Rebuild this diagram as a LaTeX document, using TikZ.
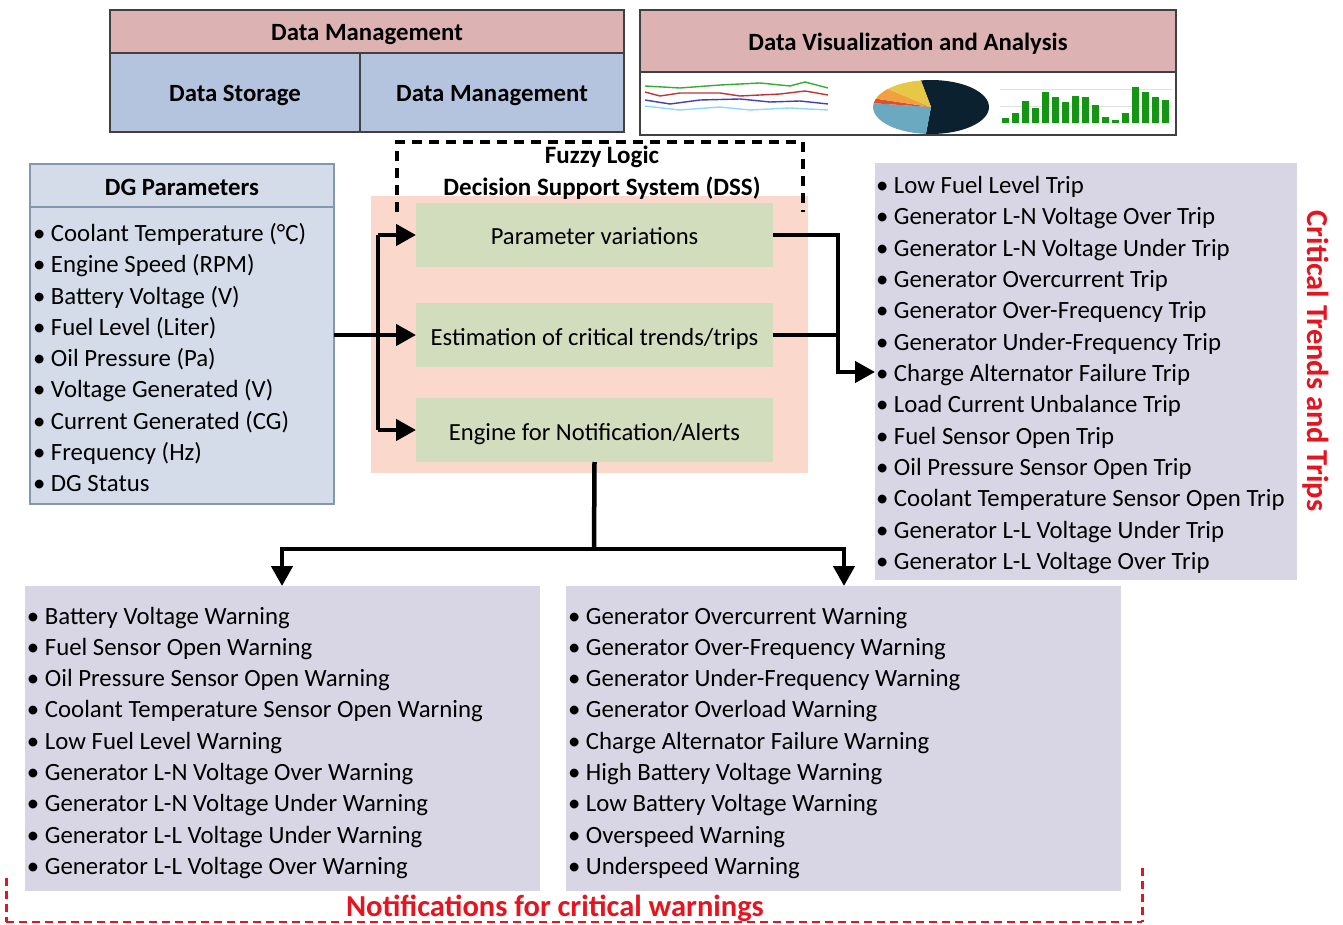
\documentclass[tikz,border=0pt]{standalone}
\usepackage{fontspec}
\setmainfont{Carlito}
\usetikzlibrary{arrows.meta}
\definecolor{hdrpink}{RGB}{220,178,179}
\definecolor{cellblue}{RGB}{180,196,222}
\definecolor{dgfill}{RGB}{212,220,234}
\definecolor{dgline}{RGB}{132,151,176}
\definecolor{listgrey}{RGB}{216,214,228}
\definecolor{dsspink}{RGB}{251,216,204}
\definecolor{dssgreen}{RGB}{210,221,190}
\definecolor{alertred}{RGB}{230,20,30}
\definecolor{boxline}{RGB}{64,64,64}
\definecolor{piedark}{RGB}{11,33,48}
\definecolor{pieblue}{RGB}{107,169,192}
\definecolor{piered}{RGB}{222,80,50}
\definecolor{pieorange}{RGB}{240,160,60}
\definecolor{pieyellow}{RGB}{230,200,70}
\definecolor{bargreen}{RGB}{20,150,20}
\begin{document}
\begin{tikzpicture}[x=1pt,y=-1pt,
  every node/.style={inner sep=0pt, outer sep=0pt},
  txt/.style={font=\fontsize{24.6}{28}\selectfont, text=black, text height=25pt, text depth=5pt},
  btxt/.style={font=\bfseries\fontsize{24.8}{28}\selectfont, text=black, text height=24pt, text depth=5pt},
  item/.style={anchor=base west, font=\fontsize{24.8}{28}\selectfont, text=black},
  topbox/.style={draw=boxline, line width=1.3pt, rectangle},
  listbox/.style={fill=listgrey, rectangle},
  greenbox/.style={fill=dssgreen, rectangle, minimum width=357pt},
  flow/.style={line width=4.5pt, -{Triangle[length=20pt,width=21pt]}},
  flowline/.style={line width=4.5pt},
  redtxt/.style={font=\bfseries\fontsize{30.5}{32}\selectfont, text=alertred}
]
\useasboundingbox (0,0) rectangle (1343,925);

% ---------- Data Management (top left) ----------
\node[topbox, fill=hdrpink, minimum width=514pt, minimum height=43pt, btxt] (dmh) at (367,31.5) {Data Management};
\node[topbox, fill=cellblue, minimum width=250pt, minimum height=79pt, btxt] (ds) at (235,92.5) {Data Storage};
\node[topbox, fill=cellblue, minimum width=264pt, minimum height=79pt, btxt] (dm) at (492,92.5) {Data Management};

% ---------- Data Visualization (top right) ----------
\node[topbox, fill=hdrpink, minimum width=536pt, minimum height=62pt, btxt] (dvh) at (908,41) {Data Visualization and Analysis};
\node[topbox, fill=white, minimum width=536pt, minimum height=63pt] (dvc) at (908,103.5) {};
% line chart
\draw[line width=1.4pt, green!60!black!80] (645,86) -- (680,88) -- (720,85) -- (760,83) -- (790,86) -- (805,82) -- (828,88);
\draw[line width=1.4pt, red!70!black!80] (645,92) -- (660,96) -- (680,93) -- (720,93) -- (740,96) -- (780,94) -- (805,91) -- (828,95);
\draw[line width=1.4pt, blue!50!gray] (645,100) -- (670,104) -- (700,100) -- (740,99) -- (770,102) -- (800,101) -- (828,104);
\draw[line width=1.4pt, cyan!45!white] (645,106) -- (680,110) -- (720,107) -- (750,110) -- (790,108) -- (828,110);
% pie chart
\coordinate (pc) at (931,107);
\fill[piedark] (pc) -- ++(95:58 and 27) arc[start angle=95, end angle=-100, x radius=58, y radius=27] -- cycle;
\fill[pieblue] (pc) -- ++(95:58 and 27) arc[start angle=95, end angle=188, x radius=58, y radius=27] -- cycle;
\fill[piered] (pc) -- ++(188:58 and 27) arc[start angle=188, end angle=198, x radius=58, y radius=27] -- cycle;
\fill[pieorange] (pc) -- ++(198:58 and 27) arc[start angle=198, end angle=222, x radius=58, y radius=27] -- cycle;
\fill[pieyellow] (pc) -- ++(222:58 and 27) arc[start angle=222, end angle=260, x radius=58, y radius=27] -- cycle;
% bar chart
\draw[gray!25, line width=0.6pt] (1000,89) -- (1172,89) (1000,106) -- (1172,106);
\foreach \h [count=\i] in {5,10,22,15,31,26,21,27,26,18,6,3,10,36,31,26,23}
  \fill[bargreen] ({1001.5+10*(\i-1)},123) rectangle ++(7,-\h);

% ---------- DG Parameters ----------
\node[draw=dgline, fill=dgfill, line width=1.2pt, minimum width=304pt, minimum height=340pt] (dg) at (182,334) {};
\draw[dgline, line width=1.2pt] (dg.west |- 0,207) -- (dg.east |- 0,207);
\node[btxt] (dgh) at (182,186) {DG Parameters};
\foreach \t [count=\i] in {{Coolant Temperature (°C)},{Engine Speed (RPM)},{Battery Voltage (V)},{Fuel Level (Liter)},{Oil Pressure (Pa)},{Voltage Generated (V)},{Current Generated (CG)},{Frequency (Hz)},{DG Status}}
  \node[item] (dg\i) at (33,{241.5+31.25*(\i-1)}) {• \t};

% ---------- DSS ----------
\fill[dsspink] (371,196) rectangle (808,473);
\node[draw=none] (dss) at (589.5,334.5) {};
\draw[line width=3.5pt, dash pattern=on 10pt off 7pt] (397,212) -- (397,142) -- (803,142) -- (803,212);
\node[align=center, font=\bfseries\fontsize{25}{32}\selectfont] (fl) at (602,173) {Fuzzy Logic\\Decision Support System (DSS)};
\node[greenbox, minimum height=64pt, txt] (pv) at (594.5,235) {Parameter variations};
\node[greenbox, minimum height=64pt, txt] (ec) at (594.5,335) {Estimation of critical trends/trips};
\node[greenbox, minimum height=64pt, txt] (en) at (594.5,430) {Engine for Notification/Alerts};

% ---------- Trips ----------
\node[listbox, minimum width=422pt, minimum height=417pt] (trips) at (1086,371.5) {};
\foreach \t [count=\i] in {{Low Fuel Level Trip},{Generator L-N Voltage Over Trip},{Generator L-N Voltage Under Trip},{Generator Overcurrent Trip},{Generator Over-Frequency Trip},{Generator Under-Frequency Trip},{Charge Alternator Failure Trip},{Load Current Unbalance Trip},{Fuel Sensor Open Trip},{Oil Pressure Sensor Open Trip},{Coolant Temperature Sensor Open Trip},{Generator L-L Voltage Under Trip},{Generator L-L Voltage Over Trip}}
  \node[item] (tr\i) at (876,{193.5+31.33*(\i-1)}) {• \t};
\node[redtxt, font=\bfseries\fontsize{30.5}{32}\selectfont, rotate=-90] (ctt) at (1316,361) {Critical Trends and Trips};

% ---------- Warnings ----------
\node[listbox, minimum width=515pt, minimum height=305pt] (wl) at (282,738.5) {};
\foreach \t [count=\i] in {{Battery Voltage Warning},{Fuel Sensor Open Warning},{Oil Pressure Sensor Open Warning},{Coolant Temperature Sensor Open Warning},{Low Fuel Level Warning},{Generator L-N Voltage Over Warning},{Generator L-N Voltage Under Warning},{Generator L-L Voltage Under Warning},{Generator L-L Voltage Over Warning}}
  \node[item] (wl\i) at (27,{624+31.3*(\i-1)}) {• \t};
\node[listbox, minimum width=555pt, minimum height=305pt] (wr) at (843.5,738.5) {};
\foreach \t [count=\i] in {{Generator Overcurrent Warning},{Generator Over-Frequency Warning},{Generator Under-Frequency Warning},{Generator Overload Warning},{Charge Alternator Failure Warning},{High Battery Voltage Warning},{Low Battery Voltage Warning},{Overspeed Warning},{Underspeed Warning}}
  \node[item] (wr\i) at (568,{624+31.3*(\i-1)}) {• \t};

% red dashed frame
\draw[alertred, line width=3pt, dash pattern=on 8pt off 5pt] (6,878) -- (6,922);
\draw[alertred, line width=3pt, dash pattern=on 8pt off 5pt] (1142,868) -- (1142,922);
\draw[alertred, line width=2pt, dash pattern=on 8pt off 5pt] (6,922) -- (1142,922);
\node[redtxt] (ncw) at (555,908) {Notifications for critical warnings};

% ---------- Connectors ----------
\coordinate (busL) at (378,335);
\draw[flowline] (dg.east |- 0,335) -- (busL);
\draw[flowline] (378,235) -- (378,430);
\draw[flow] (378,235) -- (pv.west);
\draw[flow] (busL) -- (ec.west);
\draw[flow] (378,430) -- (en.west);
\coordinate (busR) at (838,372);
\draw[flowline] (pv.east) -- (838,235) -- (838,337);
\draw[flowline] (ec.east) -- (838,335);
\draw[flow] (838,335) -- (busR) -- (trips.west |- busR);
\coordinate (split) at (594,549);
\draw[flowline] (en.south) -- (split);
\draw[flow] (split) -- (282,549) -- (wl.north -| 282,0);
\draw[flow] (split) -- (844,549) -- (wr.north -| 844,0);
\end{tikzpicture}
\end{document}
